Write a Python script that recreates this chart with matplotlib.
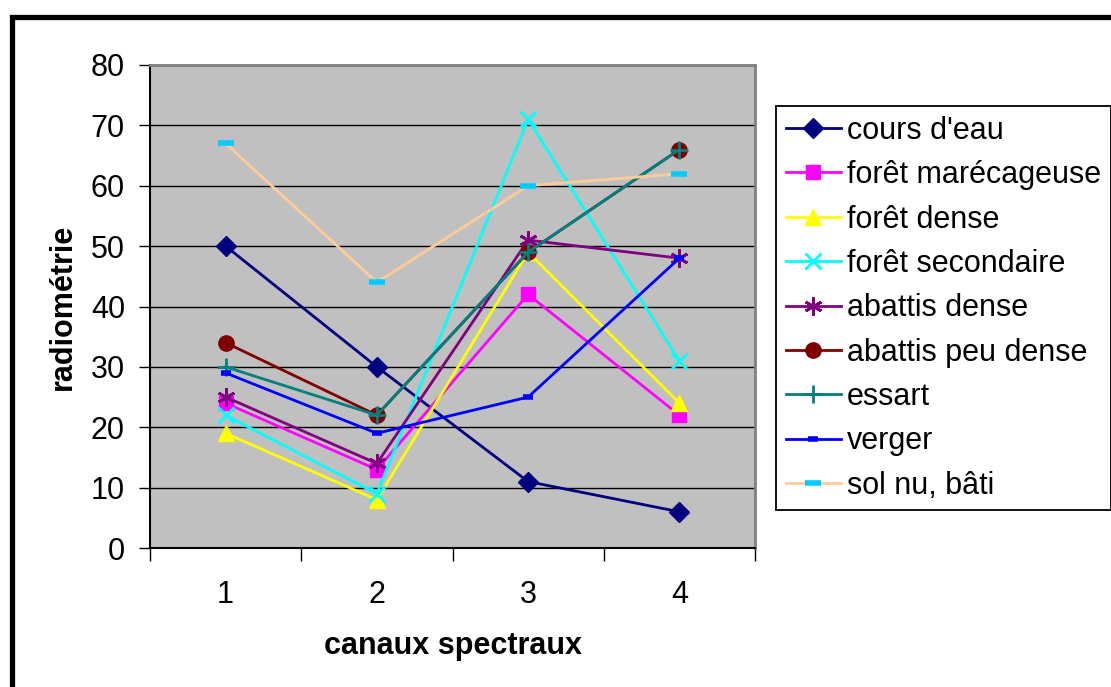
import matplotlib.pyplot as plt
from matplotlib.patches import Rectangle

plt.rcParams['font.family'] = ['Liberation Sans', 'DejaVu Sans']

canaux = [1, 2, 3, 4]
noms = ["cours d'eau", "forêt marécageuse", "forêt dense", "forêt secondaire",
        "abattis dense", "abattis peu dense", "essart", "verger", "sol nu, bâti"]
cours_eau = [50, 30, 11, 6]
foret_marecageuse = [24, 13, 42, 22]
foret_dense = [19, 8, 49, 24]
foret_secondaire = [22, 9, 71, 31]
abattis_dense = [25, 14, 51, 48]
abattis_peu_dense = [34, 22, 49, 66]
essart = [30, 22, 49, 66]
verger = [29, 19, 25, 48]
sol_nu = [67, 44, 60, 62]

series = [cours_eau, foret_marecageuse, foret_dense, foret_secondaire,
          abattis_dense, abattis_peu_dense, essart, verger, sol_nu]
# line colour, marker, marker colour, marker size, marker edge width
styles = [
    ('#000080', 'D', '#000080', 10, 1),
    ('#FF00FF', 's', '#FF00FF', 10, 1),
    ('#FFFF00', '^', '#FFFF00', 12, 1),
    ('#00FFFF', 'x', '#00FFFF', 11, 2),
    ('#800080', (6, 2, 0), '#800080', 13, 2),
    ('#800000', 'o', '#800000', 11, 1),
    ('#008080', '+', '#008080', 13, 2),
    ('#0000FF', '_', '#0000FF', 7, 4),
    ('#FFCC99', '_', '#00CCFF', 11, 4),
]

fig = plt.figure(figsize=(11.11, 6.87), dpi=100)
ax = fig.add_axes([0.135, 0.2023, 0.5446, 0.7031])
ax.set_facecolor('#C0C0C0')

for vals, nom, (lc, mk, mc, ms, mew) in zip(series, noms, styles):
    ax.plot(canaux, vals, color=lc, lw=2, marker=mk, markersize=ms,
            markerfacecolor=mc, markeredgecolor=mc, markeredgewidth=mew,
            label=nom, zorder=3)

ax.set_xlim(0.5, 4.5)
ax.set_ylim(0, 80)
ax.set_yticks(range(0, 81, 10))
ax.set_xticks(canaux)
ax.set_xticks([0.5, 1.5, 2.5, 3.5, 4.5], minor=True)
ax.grid(axis='y', color='black', lw=1)
ax.set_axisbelow(True)
ax.tick_params(axis='y', length=8, width=1, labelsize=22, pad=10)
ax.tick_params(axis='x', which='major', length=0, labelsize=22, pad=23)
ax.tick_params(axis='x', which='minor', length=9, width=1)
for s in ['top', 'right']:
    ax.spines[s].set_color('#808080')
    ax.spines[s].set_linewidth(2)
for s in ['left', 'bottom']:
    ax.spines[s].set_color('black')
    ax.spines[s].set_linewidth(1.5)

ax.set_xlabel('canaux spectraux', fontsize=22, fontweight='bold', labelpad=15)
ax.set_ylabel('radiométrie', fontsize=22, fontweight='bold', labelpad=9)

leg = ax.legend(loc='upper left', bbox_to_anchor=(0.6985, 0.8457),
                bbox_transform=fig.transFigure, borderaxespad=0,
                fancybox=False, edgecolor='black', framealpha=1,
                fontsize=22, handlelength=1.8, handletextpad=0.2,
                labelspacing=0.47, borderpad=0.32)
leg.get_frame().set_linewidth(1.3)

fig.patches.append(Rectangle((0.0104, -0.05), 1.1, 1.025, transform=fig.transFigure,
                             fill=False, edgecolor='black', lw=3.8))

fig.savefig('out.png', dpi=100)
